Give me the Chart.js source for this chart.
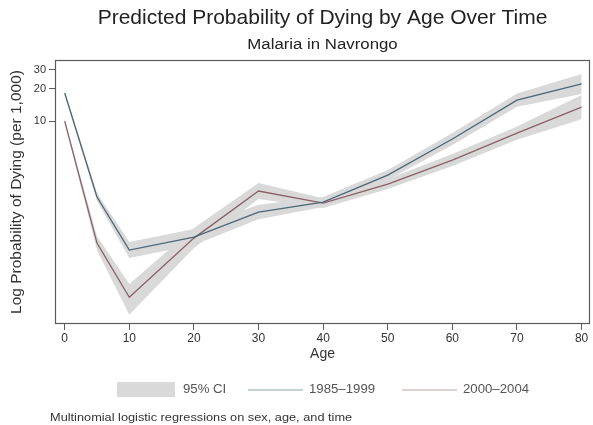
<!DOCTYPE html>
<html>
<head>
<meta charset="utf-8">
<script src="https://cdn.jsdelivr.net/npm/chart.js@4/dist/chart.umd.min.js"></script>
<style>
  html, body { margin: 0; padding: 0; background: #fff; }
  canvas { display: block; }
</style>
</head>
<body>
<canvas id="chart" width="593" height="425"></canvas>
<script>
// Predicted probability of dying (per 1,000) by age, two periods
const ages = [0, 5, 10, 20, 30, 40, 50, 60, 70, 80];

const early   = [18.3, 1.95, 0.623, 0.824, 1.41, 1.75, 3.13, 6.79, 15.7, 22.2];
const earlyLo = [17.5, 1.79, 0.524, 0.694, 1.21, 1.57, 2.81, 5.97, 13.6, 17.9];
const earlyHi = [19.1, 2.13, 0.740, 0.979, 1.65, 1.95, 3.48, 7.73, 18.1, 27.5];

const late    = [10.0, 0.724, 0.226, 0.806, 2.22, 1.71, 2.58, 4.32, 7.72, 13.5];
const lateLo  = [9.58, 0.620, 0.155, 0.650, 1.87, 1.54, 2.32, 3.80, 6.69, 10.4];
const lateHi  = [10.4, 0.840, 0.300, 1.00, 2.64, 1.90, 2.87, 4.92, 8.91, 17.5];

const xTicks = [0, 10, 20, 30, 40, 50, 60, 70, 80];
const yTicks = [10, 20, 30];

const seriesNames = ['1985\u20131999', '2000\u20132004'];
const ciName = '95% CI';
const titleText = 'Predicted Probability of Dying by Age Over Time';
const subtitleText = 'Malaria in Navrongo';
const xTitle = 'Age';
const yTitle = 'Log Probability of Dying (per 1,000)';
const noteText = 'Multinomial logistic regressions on sex, age, and time';

const FONT = '"Liberation Sans", Arial, Helvetica, sans-serif';
const BLUE = '#4d6676';
const RED = '#8a6166';
const BAND = '#d9d9d9';
const FRAME = '#5a5a5a';

const pts = (vals) => ages.map((a, i) => ({ x: a, y: vals[i] }));

function text(ctx, str, x, y, size, color, align, sx) {
  ctx.save();
  ctx.translate(x, y);
  ctx.scale(sx || 1, 1);
  ctx.font = size + 'px ' + FONT;
  ctx.fillStyle = color;
  ctx.textAlign = align || 'left';
  ctx.textBaseline = 'middle';
  ctx.fillText(str, 0, 0);
  ctx.restore();
}

// Frame, titles, legend and note
const decorations = {
  id: 'decorations',
  afterDraw(chart) {
    const ctx = chart.ctx;
    const a = chart.chartArea;
    ctx.save();
    ctx.strokeStyle = FRAME;
    ctx.lineWidth = 1.2;
    ctx.strokeRect(a.left + 0.5, a.top + 0.5, a.right - a.left - 1, a.bottom - a.top - 1);
    ctx.restore();

    const cx = (a.left + a.right) / 2;
    text(ctx, titleText, cx, 18, 21, '#222', 'center');
    text(ctx, subtitleText, cx, 45, 14, '#222', 'center', 1.2);
    text(ctx, xTitle, cx, 354, 14, '#333', 'center');

    ctx.save();
    ctx.translate(17, (a.top + a.bottom) / 2);
    ctx.rotate(-Math.PI / 2);
    text(ctx, yTitle, 0, 0, 15.5, '#333', 'center');
    ctx.restore();

    // legend
    ctx.fillStyle = BAND;
    ctx.fillRect(117, 382, 58, 15);
    text(ctx, ciName, 183, 390, 12, '#555', 'left', 1.1);
    ctx.save();
    ctx.lineWidth = 1.2;
    ctx.strokeStyle = '#8fa3b1';
    ctx.beginPath(); ctx.moveTo(248, 390); ctx.lineTo(303, 390); ctx.stroke();
    ctx.strokeStyle = '#c4a3a7';
    ctx.beginPath(); ctx.moveTo(402, 390); ctx.lineTo(457, 390); ctx.stroke();
    ctx.restore();
    text(ctx, seriesNames[0], 309, 390, 12, '#555', 'left', 1.1);
    text(ctx, seriesNames[1], 463, 390, 12, '#555', 'left', 1.1);

    text(ctx, noteText, 50, 418, 11, '#333', 'left', 1.16);
  }
};

const lineDs = (label, vals, color) => ({
  label, data: pts(vals), borderColor: color, borderWidth: 1.3,
  pointRadius: 0, tension: 0, fill: false
});
const bandDs = (label, vals, fill) => ({
  label, data: pts(vals), borderWidth: 0, borderColor: 'rgba(0,0,0,0)',
  backgroundColor: BAND, pointRadius: 0, tension: 0, fill
});

new Chart(document.getElementById('chart'), {
  type: 'line',
  data: {
    datasets: [
      lineDs(seriesNames[0], early, BLUE),
      lineDs(seriesNames[1], late, RED),
      bandDs(ciName, earlyHi, '+1'),
      bandDs(ciName, earlyLo, false),
      bandDs(ciName, lateHi, '+1'),
      bandDs(ciName, lateLo, false)
    ]
  },
  options: {
    responsive: false,
    animation: false,
    devicePixelRatio: 1,
    layout: { padding: { left: 0, right: 3, top: 60, bottom: 61 } },
    plugins: {
      legend: { display: false },
      title: { display: false },
      tooltip: { enabled: false }
    },
    scales: {
      x: {
        type: 'linear',
        min: -1.5,
        max: 81.3,
        afterBuildTicks: (s) => { s.ticks = xTicks.map(v => ({ value: v })); },
        afterFit: (s) => { s.height = 40; },
        grid: { drawOnChartArea: false, tickLength: 6, color: FRAME, lineWidth: 1 },
        border: { display: false },
        ticks: {
          font: { family: FONT, size: 12 }, color: '#333', padding: 1,
          maxRotation: 0, autoSkip: false, callback: (v) => String(v)
        }
      },
      y: {
        type: 'logarithmic',
        min: 0.127,
        max: 37.2,
        afterBuildTicks: (s) => { s.ticks = yTicks.map(v => ({ value: v })); },
        afterFit: (s) => { s.width = 55; },
        grid: { drawOnChartArea: false, tickLength: 6, color: FRAME, lineWidth: 1 },
        border: { display: false },
        ticks: {
          font: { family: FONT, size: 11 }, color: '#333', padding: 3,
          autoSkip: false, callback: (v) => String(v)
        }
      }
    }
  },
  plugins: [decorations]
});
</script>
</body>
</html>
